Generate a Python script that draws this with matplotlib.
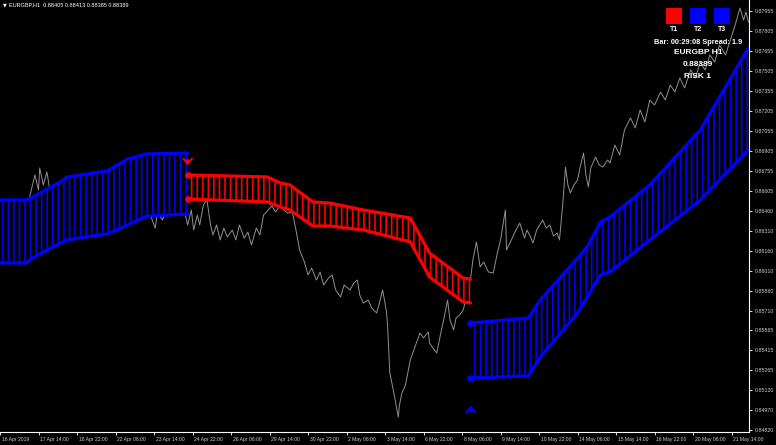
import numpy as np
import matplotlib
matplotlib.use("Agg")
import matplotlib.pyplot as plt
from matplotlib.patches import Rectangle
import matplotlib.transforms as mtransforms

plt.rcParams['font.family'] = ['Liberation Sans', 'DejaVu Sans']
plt.rcParams['hatch.linewidth'] = 1.2

# ---------------- data ----------------
price_bar = [0, 4, 8, 12, 17, 21, 25, 29, 32, 33, 36, 39, 42, 46, 50, 54, 58, 62, 66, 71,
             75, 79, 83, 87, 91, 96, 100, 104, 108, 112, 116, 120, 125, 129, 131, 135, 140, 145, 150, 154,
             156, 159, 161, 164, 166, 169, 172, 175, 177, 180, 183, 186, 189, 193, 196, 199, 203, 206, 209, 213,
             216, 219, 223, 226, 229, 233, 236, 239, 243, 246, 249, 253, 256, 259, 263, 266, 269, 273, 276, 279,
             283, 286, 291, 294, 297, 299, 302, 306, 309, 313, 316, 318, 321, 322, 324, 326, 328, 331, 332, 334,
             337, 341, 344, 347, 349, 352, 356, 357, 361, 363, 366, 369, 372, 374, 377, 379, 382, 385, 387, 391,
             393, 396, 399, 402, 406, 410, 413, 416, 420, 421, 425, 428, 432, 436, 438, 441, 443, 446, 451, 454,
             457, 460, 463, 465, 468, 470, 472, 474, 477, 480, 482, 485, 487, 489, 491, 495, 498, 501, 505, 507,
             511, 515, 519, 524, 528, 532, 536, 540, 544, 549, 553, 557, 561, 565, 569, 574, 578, 582, 586, 590,
             594, 598, 603, 607, 611, 615, 618, 620, 622]
price_val = [0.86427, 0.86353, 0.86465, 0.86315, 0.86502, 0.86390, 0.86577, 0.86727, 0.86614, 0.86779,
             0.86652, 0.86749, 0.86577, 0.86652, 0.86540, 0.86614, 0.86502, 0.86577, 0.86465, 0.86540,
             0.86427, 0.86502, 0.86465, 0.86577, 0.86502, 0.86540, 0.86465, 0.86577, 0.86502, 0.86540,
             0.86465, 0.86502, 0.86427, 0.86330, 0.86450, 0.86390, 0.86502, 0.86465, 0.86540, 0.86427,
             0.86353, 0.86465, 0.86315, 0.86427, 0.86353, 0.86502, 0.86540, 0.86353, 0.86278, 0.86353,
             0.86241, 0.86330, 0.86263, 0.86315, 0.86241, 0.86353, 0.86255, 0.86300, 0.86203, 0.86330,
             0.86278, 0.86427, 0.86465, 0.86495, 0.86450, 0.86502, 0.86465, 0.86442, 0.86450, 0.86315,
             0.86166, 0.86076, 0.85979, 0.86031, 0.85941, 0.86001, 0.85904, 0.85956, 0.85979, 0.85867,
             0.85814, 0.85904, 0.85867, 0.85919, 0.85941, 0.85829, 0.85769, 0.85792, 0.85732, 0.85695,
             0.85792, 0.85867, 0.85717, 0.85620, 0.85246, 0.85156, 0.85067, 0.84917, 0.85007, 0.85097,
             0.85156, 0.85343, 0.85418, 0.85493, 0.85545, 0.85508, 0.85553, 0.85470, 0.85418, 0.85396,
             0.85530, 0.85657, 0.85792, 0.85642, 0.85568, 0.85657, 0.85680, 0.85717, 0.85792, 0.85941,
             0.86091, 0.86226, 0.86039, 0.86076, 0.86001, 0.85994, 0.86128, 0.86241, 0.86465, 0.86166,
             0.86241, 0.86300, 0.86368, 0.86255, 0.86315, 0.86263, 0.86218, 0.86315, 0.86390, 0.86330,
             0.86353, 0.86270, 0.86293, 0.86241, 0.86540, 0.86786, 0.86652, 0.86592, 0.86652, 0.86689,
             0.86779, 0.86891, 0.86727, 0.86637, 0.86779, 0.86861, 0.86801, 0.86786, 0.86839, 0.86816,
             0.86951, 0.86876, 0.87063, 0.87153, 0.87078, 0.87213, 0.87123, 0.87287, 0.87250, 0.87347,
             0.87287, 0.87399, 0.87347, 0.87452, 0.87377, 0.87512, 0.87452, 0.87571, 0.87512, 0.87624,
             0.87571, 0.87699, 0.87624, 0.87736, 0.87848, 0.87975, 0.87885, 0.87945, 0.87871]

band1_bar = [0, 22, 27, 50, 56, 83, 89, 106, 122, 156]
band1_upper = [0.86540, 0.86540, 0.86562, 0.86674, 0.86712, 0.86749, 0.86756, 0.86846, 0.86884, 0.86891]
band1_lower = [0.86069, 0.86069, 0.86106, 0.86218, 0.86241, 0.86278, 0.86285, 0.86353, 0.86420, 0.86435]

band2_bar = [156, 222, 233, 241, 260, 274, 302, 341, 357, 385, 391]
band2_upper = [0.86727, 0.86712, 0.86667, 0.86652, 0.86525, 0.86517, 0.86465, 0.86405, 0.86143, 0.85956, 0.85949]
band2_lower = [0.86547, 0.86525, 0.86487, 0.86465, 0.86345, 0.86345, 0.86315, 0.86226, 0.85964, 0.85777, 0.85770]

band3_bar = [391, 439, 449, 480, 488, 499, 507, 540, 582, 622]
band3_upper = [0.85620, 0.85657, 0.85792, 0.86106, 0.86188, 0.86375, 0.86413, 0.86652, 0.87063, 0.87676]
band3_lower = [0.85209, 0.85224, 0.85366, 0.85695, 0.85814, 0.85979, 0.86001, 0.86241, 0.86540, 0.86913]

sell_bar, sell_price = 156, 0.86779
buy_bar, buy_price = 391, 0.85022

y_ticks = [0.87955, 0.87805, 0.87655, 0.87505, 0.87355, 0.87205, 0.87055, 0.86905, 0.86755, 0.86605,
           0.86460, 0.86310, 0.86160, 0.86010, 0.85860, 0.85710, 0.85565, 0.85415, 0.85265, 0.85120,
           0.84970, 0.84820]
x_tick_labels = ["16 Apr 2019", "17 Apr 14:00", "18 Apr 22:00", "22 Apr 06:00", "23 Apr 14:00",
                 "24 Apr 22:00", "26 Apr 06:00", "29 Apr 14:00", "30 Apr 22:00", "2 May 06:00",
                 "3 May 14:00", "6 May 22:00", "8 May 06:00", "9 May 14:00", "10 May 22:00",
                 "14 May 06:00", "15 May 14:00", "16 May 22:00", "20 May 06:00", "21 May 14:00"]
x_tick_bars = [32 * i for i in range(len(x_tick_labels))]

header = "EURGBP,H1  0.88405 0.88413 0.88385 0.88389"
panel_labels = ["T1", "T2", "T3"]
panel_colors = ["#ff0000", "#0000ff", "#0000ff"]
panel_lines = ["Bar: 00:29:08 Spread: 1.9", "EURGBP H1", "0.88389", "RISK 1"]

# ---------------- figure ----------------
W, H = 776, 445
fig = plt.figure(figsize=(W / 100, H / 100), dpi=100, facecolor="black")
ax = fig.add_axes([0, 1 - 432 / H, 749 / W, 432 / H], facecolor="black")

ax.plot(price_bar, price_val, color="#909090", lw=0.7, zorder=1)

def band(xs, up, lo, color):
    ax.fill_between(xs, lo, up, facecolor="black", edgecolor=color, hatch="|||", linewidth=0, zorder=2)
    ax.plot(xs, up, color=color, lw=2.3, solid_capstyle="round", zorder=3)
    ax.plot(xs, lo, color=color, lw=2.3, solid_capstyle="round", zorder=3)

band(band1_bar, band1_upper, band1_lower, "#0000ff")
band(band2_bar, band2_upper, band2_lower, "#ff0000")
band(band3_bar, band3_upper, band3_lower, "#0000ff")

ax.scatter([band2_bar[0]] * 2, [band2_upper[0], band2_lower[0]], s=14, color="#ff0000", zorder=4)
ax.scatter([band3_bar[0]] * 2, [band3_upper[0], band3_lower[0]], s=14, color="#0000ff", zorder=4)

ax.annotate("", xy=(sell_bar, sell_price), xytext=(0, 8), textcoords="offset points",
            arrowprops=dict(arrowstyle="->,head_length=0.35,head_width=0.3", color="#ff0000", lw=1.5))
ax.annotate("", xy=(buy_bar, buy_price), xytext=(0, -8), textcoords="offset points",
            arrowprops=dict(arrowstyle="->,head_length=0.35,head_width=0.3", color="#0000ff", lw=1.5))

ax.set_xlim(0, 622.5)
ax.set_ylim(0.84805, 0.88035)

for s in ["top", "left"]:
    ax.spines[s].set_visible(False)
for s in ["right", "bottom"]:
    ax.spines[s].set_color("white")
    ax.spines[s].set_linewidth(0.8)

ax.yaxis.tick_right()
ax.set_yticks(y_ticks)
ax.set_yticklabels([f"{v:.5f}" for v in y_ticks])
ax.tick_params(axis="y", colors="white", labelcolor="#cfcfcf", labelsize=3.8, length=2.5, width=0.6, pad=1.5)

ax.set_xticks(x_tick_bars)
ax.set_xticklabels(x_tick_labels)
ax.tick_params(axis="x", colors="white", labelcolor="#cfcfcf", labelsize=3.6, length=2.5, width=0.6, pad=1.0)
offset = mtransforms.ScaledTranslation(1.5 / 100, 0, fig.dpi_scale_trans)
for lab in ax.get_xticklabels():
    lab.set_horizontalalignment("left")
    lab.set_transform(lab.get_transform() + offset)

# header
fig.text(3 / W, 1 - 4.5 / H, "\u25bc", color="white", fontsize=3.5, va="center", ha="left",
         family=["DejaVu Sans"])
fig.text(9 / W, 1 - 4.5 / H, header, color="white", fontsize=4.0, va="center", ha="left")

# panel
for i, (lab, col) in enumerate(zip(panel_labels, panel_colors)):
    x0 = 666 + 24 * i
    fig.add_artist(Rectangle((x0 / W, 1 - 24 / H), 16 / W, 16 / H, transform=fig.transFigure,
                             facecolor=col, edgecolor="none"))
    fig.text((x0 + 8) / W, 1 - 29.5 / H, lab, color="white", fontsize=5, fontweight="bold",
             ha="center", va="center")
panel_y = [42, 53, 65, 77]
panel_sizes = [5.3, 6.0, 6.0, 6.0]
for txt, yy, fs in zip(panel_lines, panel_y, panel_sizes):
    fig.text(698 / W, 1 - yy / H, txt, color="white", fontsize=fs, fontweight="bold",
             ha="center", va="center")

fig.savefig("out.png", dpi=100, facecolor="black")
